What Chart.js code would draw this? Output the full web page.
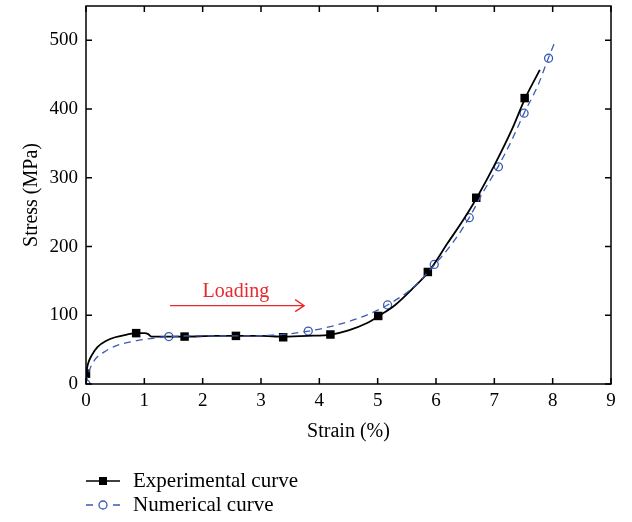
<!DOCTYPE html>
<html>
<head>
<meta charset="utf-8">
<script src="https://cdn.jsdelivr.net/npm/chart.js@4.4.0/dist/chart.umd.min.js"></script>
<style>
  body { margin: 0; background: #fff; }
  #wrap { width: 632px; height: 522px; }
</style>
</head>
<body>
<div id="wrap"><canvas id="stressChart" width="632" height="522"></canvas></div>
<script>
// experimental curve (solid black) and its square markers
const expCurveX = [0, 0.03, 0.1, 0.2, 0.35, 0.5, 0.7, 0.86, 1.0, 1.06, 1.12, 1.3, 1.7, 2.2, 2.57, 3.0, 3.38, 3.8, 4.2, 4.5, 4.8, 5.02, 5.3, 5.6, 5.87, 6.2, 6.5, 6.7, 7.0, 7.3, 7.53, 7.78];
const expCurveY = [14, 28, 42, 54, 63, 68, 72, 74, 74, 73, 69, 69, 69, 70, 70, 70, 69, 70, 72, 78, 88, 99, 115, 139, 163, 205, 243, 271, 318, 370, 416, 457];
const expMarkX = [0, 0.86, 1.69, 2.57, 3.38, 4.19, 5.01, 5.86, 6.69, 7.52];
const expMarkY = [15, 74, 69, 70, 68, 72, 99, 163, 271, 416];

// numerical curve (dashed blue) and its circle markers
const numCurveX = [0, 0.05, 0.15, 0.3, 0.5, 0.8, 1.1, 1.42, 2.0, 2.6, 3.2, 3.82, 4.3, 4.8, 5.17, 5.6, 5.97, 6.3, 6.57, 6.8, 7.07, 7.3, 7.51, 7.75, 7.93, 8.05];
const numCurveY = [0, 18, 35, 46, 55, 62, 66, 69, 70, 70, 71, 77, 86, 100, 115, 140, 173, 207, 242, 278, 317, 355, 394, 435, 475, 500];
const numMarkX = [0, 1.42, 3.81, 5.17, 5.97, 6.57, 7.07, 7.51, 7.93];
const numMarkY = [0, 69, 77, 115, 174, 242, 316, 394, 474];

const legendLabels = ['Experimental curve', 'Numerical curve'];
const arrowText = 'Loading';
const arrowFrom = { x: 1.44, y: 114 };
const arrowTo = { x: 3.74, y: 114 };
const arrowTextAt = { x: 2.57, y: 126 };

const FONT = '"Liberation Serif", "Times New Roman", serif';
const BLUE = '#3a5bb5';
const RED = '#e8282c';

const toPoints = (xs, ys) => xs.map((x, i) => ({ x: x, y: ys[i] }));

// box, inward ticks, arrow and legend
const extras = {
    id: 'extras',
    afterDraw(chart) {
        const { ctx, chartArea: a, scales: { x, y } } = chart;
        ctx.save();
        ctx.strokeStyle = '#000';
        ctx.lineWidth = 1.5;
        ctx.strokeRect(a.left, a.top, a.right - a.left, a.bottom - a.top);

        const tl = 6;
        ctx.beginPath();
        x.ticks.forEach(t => {
            const px = x.getPixelForValue(t.value);
            ctx.moveTo(px, a.bottom); ctx.lineTo(px, a.bottom - tl);
            ctx.moveTo(px, a.top); ctx.lineTo(px, a.top + tl);
        });
        y.ticks.forEach(t => {
            const py = y.getPixelForValue(t.value);
            ctx.moveTo(a.left, py); ctx.lineTo(a.left + tl, py);
            ctx.moveTo(a.right, py); ctx.lineTo(a.right - tl, py);
        });
        ctx.stroke();

        // Loading arrow
        const x1 = x.getPixelForValue(arrowFrom.x), x2 = x.getPixelForValue(arrowTo.x);
        const ay = y.getPixelForValue(arrowFrom.y);
        ctx.strokeStyle = RED;
        ctx.lineWidth = 1.3;
        ctx.beginPath();
        ctx.moveTo(x1, ay); ctx.lineTo(x2, ay);
        ctx.moveTo(x2 - 9, ay - 6); ctx.lineTo(x2, ay); ctx.lineTo(x2 - 9, ay + 6);
        ctx.stroke();
        ctx.fillStyle = RED;
        ctx.font = '20px ' + FONT;
        ctx.textAlign = 'center';
        ctx.textBaseline = 'alphabetic';
        ctx.fillText(arrowText, x.getPixelForValue(arrowTextAt.x), y.getPixelForValue(arrowTextAt.y));

        // legend
        const lx = a.left, rows = [481, 505];
        ctx.font = '21px ' + FONT;
        ctx.textAlign = 'left';
        ctx.textBaseline = 'middle';
        ctx.fillStyle = '#000';
        // experimental
        ctx.strokeStyle = '#000';
        ctx.lineWidth = 1.6;
        ctx.beginPath(); ctx.moveTo(lx, rows[0]); ctx.lineTo(lx + 34, rows[0]); ctx.stroke();
        ctx.fillRect(lx + 17 - 4, rows[0] - 4, 8, 8);
        ctx.fillText(legendLabels[0], lx + 47, rows[0]);
        // numerical
        ctx.strokeStyle = BLUE;
        ctx.lineWidth = 1.3;
        ctx.beginPath();
        ctx.moveTo(lx, rows[1]); ctx.lineTo(lx + 7, rows[1]);
        ctx.moveTo(lx + 27, rows[1]); ctx.lineTo(lx + 34, rows[1]);
        ctx.stroke();
        ctx.beginPath(); ctx.arc(lx + 17, rows[1], 4, 0, Math.PI * 2); ctx.stroke();
        ctx.fillStyle = '#000';
        ctx.fillText(legendLabels[1], lx + 47, rows[1]);
        ctx.restore();
    }
};

new Chart(document.getElementById('stressChart'), {
    type: 'line',
    data: {
        datasets: [
            {
                data: toPoints(numCurveX, numCurveY),
                borderColor: BLUE,
                borderWidth: 1.3,
                borderDash: [7, 5],
                pointRadius: 0,
                cubicInterpolationMode: 'monotone',
                fill: false
            },
            {
                data: toPoints(expCurveX, expCurveY),
                borderColor: '#000',
                borderWidth: 1.8,
                pointRadius: 0,
                cubicInterpolationMode: 'monotone',
                fill: false
            },
            {
                data: toPoints(numMarkX, numMarkY),
                showLine: false,
                pointStyle: 'circle',
                pointRadius: 4,
                pointBorderWidth: 1.3,
                pointBorderColor: BLUE,
                pointBackgroundColor: '#fff'
            },
            {
                data: toPoints(expMarkX, expMarkY),
                showLine: false,
                pointStyle: 'rect',
                pointRadius: 6,
                pointBorderWidth: 0,
                pointBackgroundColor: '#000',
                pointBorderColor: '#000'
            }
        ]
    },
    options: {
        responsive: false,
        animation: false,
        layout: { padding: { left: 16, right: 21, top: 2, bottom: 74 } },
        plugins: { legend: { display: false }, tooltip: { enabled: false } },
        scales: {
            x: {
                type: 'linear',
                min: 0, max: 9,
                ticks: { stepSize: 1, color: '#000', font: { family: FONT, size: 19 }, padding: 6, maxRotation: 0 },
                grid: { display: false, drawTicks: false },
                border: { display: false },
                title: { display: true, text: 'Strain (%)', color: '#000', font: { family: FONT, size: 20 }, padding: { top: 2, bottom: 4 } },
                afterFit: s => { s.height = 64; s.paddingLeft = 0; s.paddingRight = 0; }
            },
            y: {
                type: 'linear',
                min: 0, max: 550,
                ticks: { stepSize: 100, color: '#000', font: { family: FONT, size: 19 }, padding: 8 },
                afterBuildTicks: s => { s.ticks = s.ticks.filter(t => t.value % 100 === 0); },
                grid: { display: false, drawTicks: false },
                border: { display: false },
                title: { display: true, text: 'Stress (MPa)', color: '#000', font: { family: FONT, size: 20 }, padding: { top: 4, bottom: 4 } },
                afterFit: s => { s.width = 70; s.paddingTop = 0; s.paddingBottom = 0; }
            }
        }
    },
    plugins: [extras]
});
</script>
</body>
</html>
